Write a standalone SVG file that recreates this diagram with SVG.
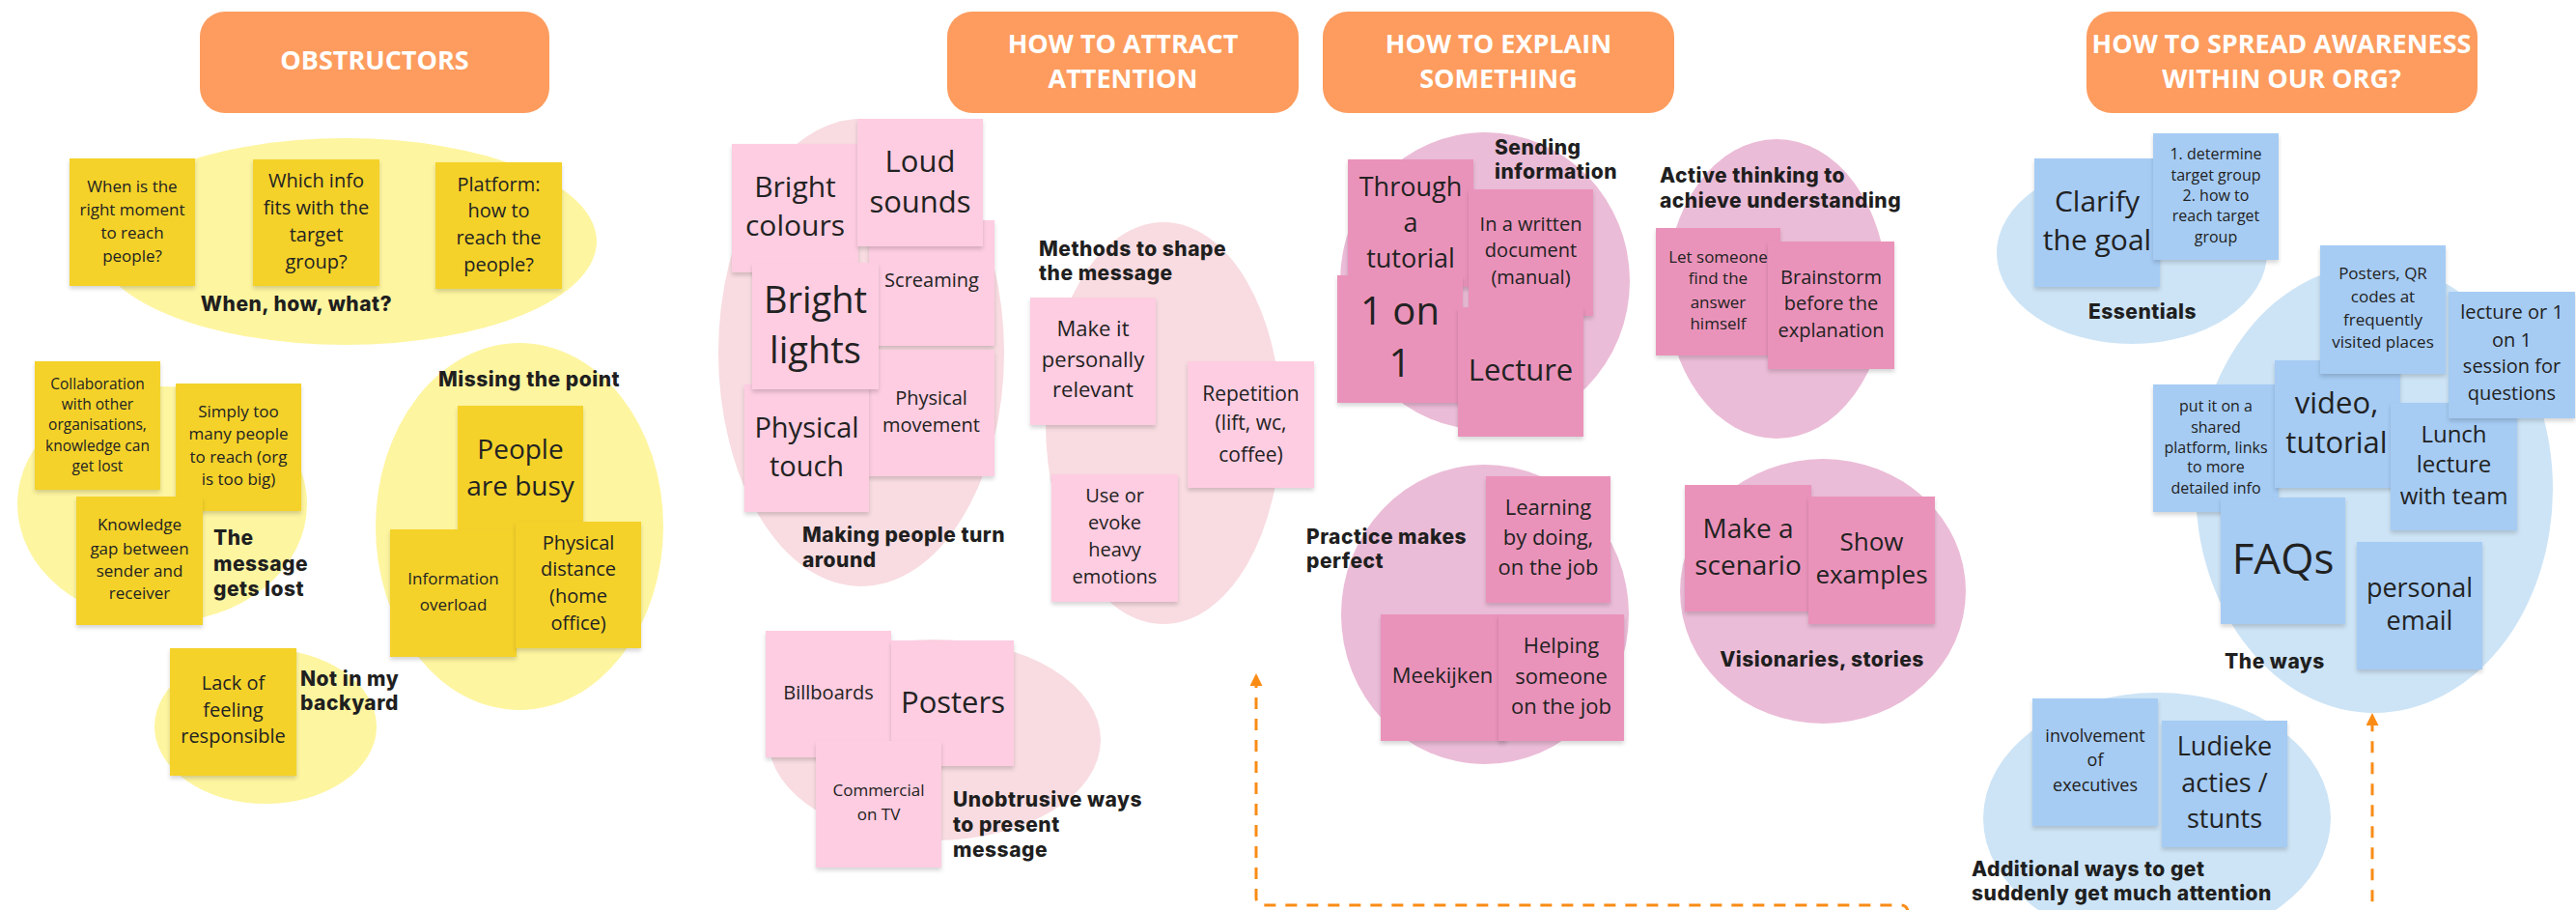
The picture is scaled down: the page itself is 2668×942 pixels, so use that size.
<svg xmlns="http://www.w3.org/2000/svg" width="2668" height="942" viewBox="0 0 2668 942">
  <defs>
    <filter id="lift" x="-10%" y="-10%" width="120%" height="125%">
      <feDropShadow dx="0" dy="3" stdDeviation="2" flood-color="#000" flood-opacity="0.16"/>
    </filter>
    <marker id="tip" viewBox="0 0 10 10" refX="7.7" refY="5" markerWidth="13" markerHeight="13" markerUnits="userSpaceOnUse" orient="auto-start-reverse">
      <path d="M0,0 L10,5 L0,10 z" fill="#FA8C16"/>
    </marker>
    <style>
      .hdr rect { fill: #FD9C5E; }
      .hdr text { fill: #FFFFFF; font-family: "Open Sans", "Noto Sans", sans-serif; font-weight: 700; font-size: 27px; text-anchor: middle; }
      .note rect { filter: url(#lift); }
      .note text { fill: #222222; font-family: "Open Sans", "Noto Sans", sans-serif; text-anchor: middle; }
      .y rect { fill: #F4D22B; }
      .lp rect { fill: #FECDE1; }
      .dp rect { fill: #EA93BA; }
      .b rect { fill: #A6CCF4; }
      .blob-y { fill: #FEF5A0; }
      .blob-lp { fill: #F8DCE1; }
      .blob-dp { fill: #EBBCD7; }
      .blob-b { fill: #CDE4F6; }
      .lbl { fill: #1F1F1F; font-family: Inter, "Noto Sans", sans-serif; font-weight: 800; font-size: 21px; letter-spacing: 0.5px; }
      .mid { text-anchor: middle; }
      .link { fill: none; stroke: #FA8C16; stroke-width: 3; stroke-dasharray: 12 10; }
    </style>
  </defs>

  <rect width="2668" height="942" fill="#FFFFFF"/>

  <!-- cluster backgrounds -->
  <g id="clusters">
    <ellipse id="c-when" class="blob-y" cx="358" cy="250" rx="260" ry="107"/>
    <ellipse id="c-lost" class="blob-y" cx="168" cy="522" rx="150" ry="122"/>
    <ellipse id="c-missing" class="blob-y" cx="538" cy="545" rx="149" ry="190"/>
    <ellipse id="c-backyard" class="blob-y" cx="275" cy="752" rx="115" ry="80"/>
    <ellipse id="c-turn" class="blob-lp" cx="892" cy="365" rx="148" ry="242"/>
    <ellipse id="c-shape" class="blob-lp" cx="1205" cy="438" rx="122" ry="208"/>
    <ellipse id="c-unobtrusive" class="blob-lp" cx="968" cy="766" rx="172" ry="104"/>
    <ellipse id="c-sending" class="blob-dp" cx="1538" cy="291" rx="150" ry="154"/>
    <ellipse id="c-active" class="blob-dp" cx="1840" cy="299" rx="114" ry="155"/>
    <ellipse id="c-practice" class="blob-dp" cx="1538" cy="636" rx="149" ry="155"/>
    <ellipse id="c-visionaries" class="blob-dp" cx="1888" cy="612" rx="148" ry="137"/>
    <ellipse id="c-essentials" class="blob-b" cx="2208" cy="262" rx="140" ry="94"/>
    <ellipse id="c-ways" class="blob-b" cx="2459" cy="506" rx="185" ry="232"/>
    <ellipse id="c-additional" class="blob-b" cx="2234" cy="847" rx="180" ry="130"/>
  </g>

  <!-- connector -->
  <g id="connectors">
    <path class="link" d="M1301,700 V929 Q1301,937 1309,937 H1968 Q1976,937 1976,945 V990 H2457 V741" marker-start="url(#tip)" marker-end="url(#tip)"/>
  </g>

  <!-- column headers -->
  <g id="h-obstructors" class="hdr">
    <rect x="207" y="12" width="362" height="105" rx="26"/>
    <text x="388" y="72">OBSTRUCTORS</text>
  </g>
  <g id="h-attract" class="hdr">
    <rect x="981" y="12" width="364" height="105" rx="26"/>
    <text x="1163" y="55">HOW TO ATTRACT</text>
    <text x="1163" y="91">ATTENTION</text>
  </g>
  <g id="h-explain" class="hdr">
    <rect x="1370" y="12" width="364" height="105" rx="26"/>
    <text x="1552" y="55">HOW TO EXPLAIN</text>
    <text x="1552" y="91">SOMETHING</text>
  </g>
  <g id="h-spread" class="hdr">
    <rect x="2161" y="12" width="405" height="105" rx="26"/>
    <text x="2363" y="55">HOW TO SPREAD AWARENESS</text>
    <text x="2363" y="91">WITHIN OUR ORG?</text>
  </g>

  <!-- obstructors -->
  <g id="n-when" class="note y">
    <rect x="72" y="164" width="130" height="132"/>
    <text font-size="17"><tspan x="137" y="199">When is the</tspan><tspan x="137" y="223">right moment</tspan><tspan x="137" y="247">to reach</tspan><tspan x="137" y="271">people?</tspan></text>
  </g>
  <g id="n-which" class="note y">
    <rect x="262" y="165" width="131" height="131"/>
    <text font-size="20"><tspan x="327.5" y="194">Which info</tspan><tspan x="327.5" y="222">fits with the</tspan><tspan x="327.5" y="250">target</tspan><tspan x="327.5" y="278">group?</tspan></text>
  </g>
  <g id="n-platform" class="note y">
    <rect x="451" y="168" width="131" height="131"/>
    <text font-size="20"><tspan x="516.5" y="198">Platform:</tspan><tspan x="516.5" y="225">how to</tspan><tspan x="516.5" y="253">reach the</tspan><tspan x="516.5" y="281">people?</tspan></text>
  </g>
  <g id="n-collab" class="note y">
    <rect x="36" y="374" width="130" height="133"/>
    <text font-size="15.5"><tspan x="101" y="403">Collaboration</tspan><tspan x="101" y="424">with other</tspan><tspan x="101" y="445">organisations,</tspan><tspan x="101" y="467">knowledge can</tspan><tspan x="101" y="488">get lost</tspan></text>
  </g>
  <g id="n-simply" class="note y">
    <rect x="182" y="397" width="130" height="132"/>
    <text font-size="17"><tspan x="247" y="432">Simply too</tspan><tspan x="247" y="455">many people</tspan><tspan x="247" y="479">to reach (org</tspan><tspan x="247" y="502">is too big)</tspan></text>
  </g>
  <g id="n-knowledge" class="note y">
    <rect x="79" y="514" width="131" height="133"/>
    <text font-size="17"><tspan x="144.5" y="549">Knowledge</tspan><tspan x="144.5" y="574">gap between</tspan><tspan x="144.5" y="597">sender and</tspan><tspan x="144.5" y="620">receiver</tspan></text>
  </g>
  <g id="n-busy" class="note y">
    <rect x="474" y="420" width="130" height="132"/>
    <text font-size="28"><tspan x="539" y="475">People</tspan><tspan x="539" y="513">are busy</tspan></text>
  </g>
  <g id="n-overload" class="note y">
    <rect x="404" y="548" width="131" height="132"/>
    <text font-size="17"><tspan x="469.5" y="605">Information</tspan><tspan x="469.5" y="632">overload</tspan></text>
  </g>
  <g id="n-distance" class="note y">
    <rect x="534" y="540" width="130" height="131"/>
    <text font-size="20"><tspan x="599" y="569">Physical</tspan><tspan x="599" y="596">distance</tspan><tspan x="599" y="624">(home</tspan><tspan x="599" y="652">office)</tspan></text>
  </g>
  <g id="n-lack" class="note y">
    <rect x="176" y="671" width="131" height="132"/>
    <text font-size="20"><tspan x="241.5" y="714">Lack of</tspan><tspan x="241.5" y="742">feeling</tspan><tspan x="241.5" y="769">responsible</tspan></text>
  </g>

  <!-- attract attention -->
  <g id="n-screaming" class="note lp">
    <rect x="900" y="228" width="130" height="130"/>
    <text font-size="20"><tspan x="965" y="297">Screaming</tspan></text>
  </g>
  <g id="n-bright-colours" class="note lp">
    <rect x="758" y="149" width="131" height="133"/>
    <text font-size="30"><tspan x="823.5" y="204">Bright</tspan><tspan x="823.5" y="244">colours</tspan></text>
  </g>
  <g id="n-loud" class="note lp">
    <rect x="888" y="123" width="130" height="132"/>
    <text font-size="31"><tspan x="953" y="178">Loud</tspan><tspan x="953" y="220">sounds</tspan></text>
  </g>
  <g id="n-movement" class="note lp">
    <rect x="899" y="362" width="131" height="131"/>
    <text font-size="20"><tspan x="964.5" y="419">Physical</tspan><tspan x="964.5" y="447">movement</tspan></text>
  </g>
  <g id="n-touch" class="note lp">
    <rect x="771" y="398" width="129" height="132"/>
    <text font-size="29"><tspan x="835.5" y="453">Physical</tspan><tspan x="835.5" y="493">touch</tspan></text>
  </g>
  <g id="n-bright-lights" class="note lp">
    <rect x="779" y="272" width="131" height="131"/>
    <text font-size="38"><tspan x="844.5" y="324">Bright</tspan><tspan x="844.5" y="376">lights</tspan></text>
  </g>
  <g id="n-relevant" class="note lp">
    <rect x="1067" y="308" width="130" height="132"/>
    <text font-size="22"><tspan x="1132" y="348">Make it</tspan><tspan x="1132" y="380">personally</tspan><tspan x="1132" y="411">relevant</tspan></text>
  </g>
  <g id="n-repetition" class="note lp">
    <rect x="1230" y="374" width="131" height="131"/>
    <text font-size="21"><tspan x="1295.5" y="415">Repetition</tspan><tspan x="1295.5" y="445">(lift, wc,</tspan><tspan x="1295.5" y="478">coffee)</tspan></text>
  </g>
  <g id="n-emotions" class="note lp">
    <rect x="1089" y="491" width="131" height="132"/>
    <text font-size="20"><tspan x="1154.5" y="520">Use or</tspan><tspan x="1154.5" y="548">evoke</tspan><tspan x="1154.5" y="576">heavy</tspan><tspan x="1154.5" y="604">emotions</tspan></text>
  </g>
  <g id="n-billboards" class="note lp">
    <rect x="793" y="653" width="130" height="131"/>
    <text font-size="20"><tspan x="858" y="724">Billboards</tspan></text>
  </g>
  <g id="n-posters" class="note lp">
    <rect x="923" y="663" width="127" height="130"/>
    <text font-size="31"><tspan x="987" y="738">Posters</tspan></text>
  </g>
  <g id="n-commercial" class="note lp">
    <rect x="845" y="767" width="130" height="131"/>
    <text font-size="17"><tspan x="910" y="824">Commercial</tspan><tspan x="910" y="849">on TV</tspan></text>
  </g>

  <!-- explain something -->
  <g id="n-through" class="note dp">
    <rect x="1396" y="165" width="130" height="132"/>
    <text font-size="27"><tspan x="1461" y="203">Through</tspan><tspan x="1461" y="240">a</tspan><tspan x="1461" y="277">tutorial</tspan></text>
  </g>
  <g id="n-written" class="note dp">
    <rect x="1521" y="196" width="129" height="131"/>
    <text font-size="20"><tspan x="1585.5" y="239">In a written</tspan><tspan x="1585.5" y="266">document</tspan><tspan x="1585.5" y="294">(manual)</tspan></text>
  </g>
  <g id="n-one-on-one" class="note dp">
    <rect x="1385" y="285" width="130" height="132"/>
    <text font-size="40"><tspan x="1450" y="336">1 on</tspan><tspan x="1450" y="390">1</tspan></text>
  </g>
  <g id="n-lecture" class="note dp">
    <rect x="1510" y="318" width="130" height="134"/>
    <text font-size="31"><tspan x="1575" y="394">Lecture</tspan></text>
  </g>
  <g id="n-let-someone" class="note dp">
    <rect x="1715" y="236" width="129" height="132"/>
    <text font-size="17"><tspan x="1779.5" y="272">Let someone</tspan><tspan x="1779.5" y="294">find the</tspan><tspan x="1779.5" y="319">answer</tspan><tspan x="1779.5" y="341">himself</tspan></text>
  </g>
  <g id="n-brainstorm" class="note dp">
    <rect x="1831" y="250" width="131" height="132"/>
    <text font-size="20"><tspan x="1896.5" y="294">Brainstorm</tspan><tspan x="1896.5" y="321">before the</tspan><tspan x="1896.5" y="349">explanation</tspan></text>
  </g>
  <g id="n-learning" class="note dp">
    <rect x="1539" y="493" width="129" height="131"/>
    <text font-size="22"><tspan x="1603.5" y="533">Learning</tspan><tspan x="1603.5" y="564">by doing,</tspan><tspan x="1603.5" y="595">on the job</tspan></text>
  </g>
  <g id="n-meekijken" class="note dp">
    <rect x="1430" y="636" width="130" height="131"/>
    <text font-size="22"><tspan x="1494" y="707">Meekijken</tspan></text>
  </g>
  <g id="n-helping" class="note dp">
    <rect x="1552" y="636" width="130" height="131"/>
    <text font-size="22"><tspan x="1617" y="676">Helping</tspan><tspan x="1617" y="708">someone</tspan><tspan x="1617" y="739">on the job</tspan></text>
  </g>
  <g id="n-scenario" class="note dp">
    <rect x="1745" y="502" width="131" height="131"/>
    <text font-size="28"><tspan x="1810.5" y="557">Make a</tspan><tspan x="1810.5" y="595">scenario</tspan></text>
  </g>
  <g id="n-examples" class="note dp">
    <rect x="1873" y="514" width="131" height="132"/>
    <text font-size="26"><tspan x="1938.5" y="570">Show</tspan><tspan x="1938.5" y="604">examples</tspan></text>
  </g>

  <!-- spread awareness -->
  <g id="n-clarify" class="note b">
    <rect x="2107" y="164" width="130" height="133"/>
    <text font-size="30"><tspan x="2172" y="219">Clarify</tspan><tspan x="2172" y="259">the goal</tspan></text>
  </g>
  <g id="n-determine" class="note b">
    <rect x="2230" y="138" width="130" height="131"/>
    <text font-size="16"><tspan x="2295" y="165">1. determine</tspan><tspan x="2295" y="187">target group</tspan><tspan x="2295" y="208">2. how to</tspan><tspan x="2295" y="229">reach target</tspan><tspan x="2295" y="251">group</tspan></text>
  </g>
  <g id="n-shared" class="note b">
    <rect x="2230" y="398" width="130" height="132"/>
    <text font-size="16"><tspan x="2295" y="426">put it on a</tspan><tspan x="2295" y="448">shared</tspan><tspan x="2295" y="469">platform, links</tspan><tspan x="2295" y="489">to more</tspan><tspan x="2295" y="511">detailed info</tspan></text>
  </g>
  <g id="n-video" class="note b">
    <rect x="2356" y="373" width="130" height="132"/>
    <text font-size="31"><tspan x="2420" y="428">video,</tspan><tspan x="2420" y="469">tutorial</tspan></text>
  </g>
  <g id="n-lunch" class="note b">
    <rect x="2476" y="417" width="131" height="132"/>
    <text font-size="24"><tspan x="2541.5" y="458">Lunch</tspan><tspan x="2541.5" y="489">lecture</tspan><tspan x="2541.5" y="522">with team</tspan></text>
  </g>
  <g id="n-session" class="note b">
    <rect x="2536" y="302" width="131" height="131"/>
    <text font-size="20"><tspan x="2601.5" y="330">lecture or 1</tspan><tspan x="2601.5" y="359">on 1</tspan><tspan x="2601.5" y="386">session for</tspan><tspan x="2601.5" y="414">questions</tspan></text>
  </g>
  <g id="n-qr" class="note b">
    <rect x="2403" y="254" width="130" height="133"/>
    <text font-size="17"><tspan x="2468" y="289">Posters, QR</tspan><tspan x="2468" y="313">codes at</tspan><tspan x="2468" y="337">frequently</tspan><tspan x="2468" y="360">visited places</tspan></text>
  </g>
  <g id="n-faqs" class="note b">
    <rect x="2300" y="515" width="129" height="131"/>
    <text font-size="44"><tspan x="2364.5" y="594">FAQs</tspan></text>
  </g>
  <g id="n-email" class="note b">
    <rect x="2441" y="561" width="130" height="132"/>
    <text font-size="27"><tspan x="2506" y="618">personal</tspan><tspan x="2506" y="652">email</tspan></text>
  </g>
  <g id="n-executives" class="note b">
    <rect x="2105" y="723" width="130" height="132"/>
    <text font-size="18"><tspan x="2170" y="768">involvement</tspan><tspan x="2170" y="793">of</tspan><tspan x="2170" y="819">executives</tspan></text>
  </g>
  <g id="n-ludieke" class="note b">
    <rect x="2239" y="746" width="130" height="131"/>
    <text font-size="27"><tspan x="2304" y="782">Ludieke</tspan><tspan x="2304" y="820">acties /</tspan><tspan x="2304" y="857">stunts</tspan></text>
  </g>

  <!-- cluster captions -->
  <g id="captions">
    <text class="lbl mid" x="307" y="322">When, how, what?</text>
    <text class="lbl"><tspan x="221" y="564">The</tspan><tspan x="221" y="591">message</tspan><tspan x="221" y="617">gets lost</tspan></text>
    <text class="lbl" x="454" y="400">Missing the point</text>
    <text class="lbl"><tspan x="311" y="710">Not in my</tspan><tspan x="311" y="735">backyard</tspan></text>
    <text class="lbl"><tspan x="831" y="561">Making people turn</tspan><tspan x="831" y="587">around</tspan></text>
    <text class="lbl"><tspan x="1076" y="265">Methods to shape</tspan><tspan x="1076" y="290">the message</tspan></text>
    <text class="lbl"><tspan x="987" y="835">Unobtrusive ways</tspan><tspan x="987" y="861">to present</tspan><tspan x="987" y="887">message</tspan></text>
    <text class="lbl"><tspan x="1548" y="160">Sending</tspan><tspan x="1548" y="185">information</tspan></text>
    <text class="lbl"><tspan x="1719" y="189">Active thinking to</tspan><tspan x="1719" y="215">achieve understanding</tspan></text>
    <text class="lbl"><tspan x="1353" y="563">Practice makes</tspan><tspan x="1353" y="588">perfect</tspan></text>
    <text class="lbl mid" x="1887" y="690">Visionaries, stories</text>
    <text class="lbl mid" x="2219" y="330">Essentials</text>
    <text class="lbl mid" x="2356" y="692">The ways</text>
    <text class="lbl"><tspan x="2042" y="907">Additional ways to get</tspan><tspan x="2042" y="932">suddenly get much attention</tspan></text>
  </g>
</svg>
